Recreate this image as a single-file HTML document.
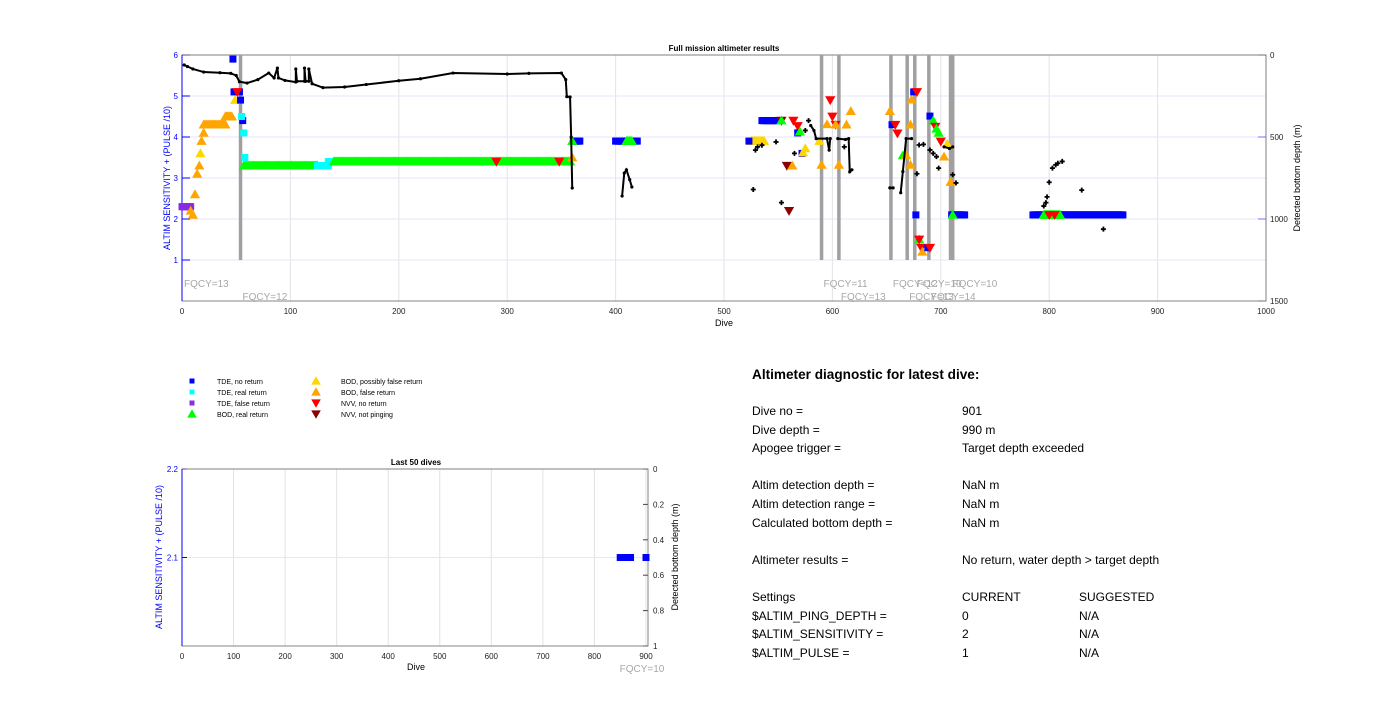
<!DOCTYPE html>
<html><head><meta charset="utf-8">
<style>
body{margin:0;background:#fff;font-family:"Liberation Sans",Arial,sans-serif;}
#wrap{position:relative;width:1400px;height:726px;overflow:hidden;}
svg{position:absolute;left:0;top:0;}
.diag{position:absolute;font-size:12px;color:#000;white-space:nowrap;}
</style></head>
<body><div id="wrap">
<svg id="svg" width="1400" height="726"></svg>
<div class="diag" style="left:752px;top:367px;font-size:13.6px;font-weight:bold;">Altimeter diagnostic for latest dive:</div>
<div id="diag"></div>
</div>
<script>
// ---------- data ----------
const diagRows=[["Dive no =","901",""],["Dive depth =","990 m",""],["Apogee trigger =","Target depth exceeded",""],null,
["Altim detection depth =","NaN m",""],["Altim detection range =","NaN m",""],["Calculated bottom depth =","NaN m",""],null,
["Altimeter results =","No return, water depth > target depth",""],null,
["Settings","CURRENT","SUGGESTED"],["$ALTIM_PING_DEPTH =","0","N/A"],["$ALTIM_SENSITIVITY =","2","N/A"],["$ALTIM_PULSE =","1","N/A"]];
const xTicks=[0,100,200,300,400,500,600,700,800,900,1000];
const yTicksL=[1,2,3,4,5,6];
const yTicksR=[0,500,1000,1500];
const fqcyDives=[54,590,606,654,669,676,689,709,711];
const fqcyLabels=[[0,"FQCY=13",0],[54,"FQCY=12",1],[590,"FQCY=11",0],[606,"FQCY=13",1],[654,"FQCY=12",0],[669,"FQCY=13",1],[676,"FQCY=10",0],[689,"FQCY=14",1],[709,"FQCY=10",0]];
// marker ranges: [startDive,endDive,value,type]
const markerRanges=[
[0,8,2.3,"tdeFalse"],[57,125,3.3,"bodReal"],[125,135,3.3,"tdeReal"],[135,140,3.4,"tdeReal"],[140,358,3.4,"bodReal"],
[20,40,4.3,"bodFalse"],[40,46,4.5,"bodFalse"],[361,367,3.9,"tdeNo"],[400,420,3.9,"tdeNo"],[410,415,3.9,"bodReal"],
[535,549,4.4,"tdeNo"],[525,537,3.9,"bodPoss"],[710,722,2.1,"tdeNo"],[785,868,2.1,"tdeNo"],[795,810,2.1,"bodReal"]];
// single markers: [dive,value,type]
const markerPoints=[
[8,2.2,"bodFalse"],[10,2.1,"bodFalse"],[12,2.6,"bodFalse"],[14,3.1,"bodFalse"],[16,3.3,"bodFalse"],[17,3.6,"bodPoss"],[18,3.9,"bodFalse"],[20,4.1,"bodFalse"],[49,4.9,"bodPoss"],
[47,5.9,"tdeNo"],[48,5.1,"tdeNo"],[53,5.1,"tdeNo"],[51,5.1,"nvvNo"],[54,4.9,"tdeNo"],[56,4.4,"tdeNo"],[55,4.5,"tdeReal"],[57,4.1,"tdeReal"],[58,3.5,"tdeReal"],
[360,3.9,"bodReal"],[360,3.5,"bodFalse"],[290,3.4,"nvvNo"],[348,3.4,"nvvNo"],
[523,3.9,"tdeNo"],[553,4.4,"nvvNot"],[553,4.4,"bodReal"],[564,4.4,"nvvNo"],[568,4.27,"nvvNo"],[558,3.3,"nvvNot"],[560,2.2,"nvvNot"],
[568,4.1,"tdeNo"],[570,4.13,"bodReal"],[563,3.3,"bodFalse"],[572,3.6,"tdeNo"],[575,3.72,"bodPoss"],[573,3.62,"bodPoss"],
[590,3.32,"bodFalse"],[595,4.31,"bodFalse"],[598,4.9,"nvvNo"],[600,4.5,"nvvNo"],[603,4.3,"nvvNo"],[603,4.3,"bodFalse"],[606,3.32,"bodFalse"],[613,4.3,"bodFalse"],[617,4.63,"bodFalse"],[588,3.9,"bodPoss"],
[653,4.63,"bodFalse"],[655,4.3,"tdeNo"],[658,4.3,"nvvNo"],[660,4.09,"nvvNo"],[665,3.55,"bodReal"],[668,3.55,"bodFalse"],[672,4.3,"bodFalse"],[672,3.32,"bodFalse"],[673,4.91,"bodFalse"],[675,5.1,"tdeNo"],[678,5.1,"nvvNo"],
[677,2.1,"tdeNo"],[680,1.5,"bodReal"],[680,1.5,"nvvNo"],[682,1.3,"nvvNo"],[683,1.2,"bodFalse"],[688,1.3,"tdeNo"],[690,1.3,"nvvNo"],
[690,4.51,"tdeNo"],[693,4.4,"bodReal"],[695,4.25,"nvvNo"],[696,4.2,"bodReal"],[698,4.1,"bodReal"],[700,3.89,"nvvNo"],[703,3.52,"bodFalse"],[706,3.83,"bodPoss"],[709,2.9,"bodFalse"],[711,2.1,"bodReal"],
[800,2.1,"nvvNo"],[805,2.1,"nvvNo"]];
// depth line segments: arrays of [dive,depth]
const depthLines=[
[[2,61],[5,70],[10,85],[20,104],[35,108],[45,112],[50,125],[53,163],[60,171],[70,150],[80,110],[85,140],[88,80],[89,140],[95,155],[105,165],[105,85],[106,160],[113,160],[113,80],[114,160],[117,160],[117,85],[120,175],[130,199],[150,195],[170,180],[200,157],[220,145],[250,110],[300,116],[320,112],[350,110],[354,150],[355,254],[358,256],[359,500],[360,811]],
[[406,860],[408,720],[410,700],[413,760],[415,805]],
[[580,430],[583,460],[585,510],[595,510],[597,580],[598,510]],
[[605,510],[612,515],[615,510],[616,712],[618,700]],
[[653,810],[656,810]],[[663,840],[665,710],[668,510],[673,510]],
[[703,560],[708,570],[711,560]]];
const depthDots=[[527,820],[529,580],[531,560],[535,550],[548,530],[553,900],[565,600],[575,460],[578,400],[611,560],[678,724],[680,549],[684,545],[690,579],[693,600],[696,620],[698,690],[711,730],[714,780],
[795,921],[797,900],[798,865],[800,776],[803,690],[806,670],[808,660],[812,649],[830,824],[850,1062]];
const last50Dives=[850,855,860,865,870,900];
const last50Vals=[2.1,2.1,2.1,2.1,2.1,2.1];
const legendItems=[["tdeNo","TDE, no return"],["tdeReal","TDE, real return"],["tdeFalse","TDE, false return"],["bodReal","BOD, real return"],["bodPoss","BOD, possibly false return"],["bodFalse","BOD, false return"],["nvvNo","NVV, no return"],["nvvNot","NVV, not pinging"]];
// ---------- drawing ----------
const NS="http://www.w3.org/2000/svg";const svg=document.getElementById('svg');
const STY={tdeNo:["#0000ff","sq"],tdeReal:["#00ffff","sq"],tdeFalse:["#8a2be2","sq"],bodReal:["#00ff00","up"],bodPoss:["#ffd700","up"],bodFalse:["#ffa500","up"],nvvNo:["#ff0000","dn"],nvvNot:["#8b0000","dn"]};
function el(tag,a,parent){const e=document.createElementNS(NS,tag);for(const k in a)e.setAttribute(k,a[k]);(parent||svg).appendChild(e);return e;}
function txt(x,y,s,a){const t=el('text',Object.assign({x:x,y:y,'font-size':8,'font-family':'Liberation Sans, Arial, sans-serif'},a||{}));t.textContent=s;return t;}
function marker(x,y,type,sz,g){const c=STY[type][0],k=STY[type][1];let m;
 if(k=="sq")m=el('rect',{x:x-sz/2,y:y-sz/2,width:sz,height:sz,fill:c},g);
 else if(k=="up")m=el('polygon',{points:`${x},${y-sz*0.6} ${x-sz*0.6},${y+sz*0.45} ${x+sz*0.6},${y+sz*0.45}`,fill:c},g);
 else m=el('polygon',{points:`${x},${y+sz*0.6} ${x-sz*0.6},${y-sz*0.45} ${x+sz*0.6},${y-sz*0.45}`,fill:c},g);
 
 return m;}
// main axes
const L=182,R=1266,T=55,B=301;
const X=d=>L+d*(R-L)/1000, YL=v=>B-v*(B-T)/6, YR=d=>T+d*(B-T)/1500;
const g1=el('g',{});
xTicks.forEach(t=>{el('line',{x1:X(t),x2:X(t),y1:T,y2:B,stroke:'#e3e3e3'},g1);const l=txt(X(t),314,String(t),{'text-anchor':'middle',fill:'#222'});g1.appendChild(l);});
yTicksL.forEach(t=>{el('line',{x1:L,x2:R,y1:YL(t),y2:YL(t),stroke:'#e6e6f8'},g1);el('line',{x1:L,x2:L+8,y1:YL(t),y2:YL(t),stroke:'#00f'},g1);
 const l=txt(L-4,YL(t)+3,String(t),{'text-anchor':'end',fill:'#00f'});g1.appendChild(l);});
yTicksR.forEach(t=>{el('line',{x1:R-8,x2:R,y1:YR(t),y2:YR(t),stroke:'#00f',opacity:0.5},g1);const l=txt(R+4,YR(t)+3,String(t),{fill:'#222'});g1.appendChild(l);});
el('rect',{x:L,y:T,width:R-L,height:B-T,fill:'none',stroke:'#666','stroke-width':0.8},g1);
el('line',{x1:L,x2:L,y1:T,y2:B,stroke:'#00f'},g1);
fqcyDives.forEach(d=>{const v=el('line',{x1:X(d),x2:X(d),y1:T,y2:YL(1),stroke:'#a0a0a0','stroke-width':3.5},g1);});
fqcyLabels.forEach(f=>{const l=txt(X(f[0])+2,f[2]?300:287,f[1],{fill:'#a8a8a8','font-size':10});g1.appendChild(l);});
markerRanges.forEach(r=>{for(let d=r[0];d<=r[1];d++)marker(X(d),YL(r[2]),r[3],r[3].startsWith('tde')?7:8.5,g1);});
markerPoints.forEach(p=>marker(X(p[0]),YL(p[1]),p[2],p[2].startsWith('tde')?7:8.5,g1));
depthLines.forEach(s=>{const pl=el('polyline',{points:s.map(p=>X(p[0])+','+YR(p[1])).join(' '),fill:'none',stroke:'#000','stroke-width':2},g1);
 s.forEach(p=>el('circle',{cx:X(p[0]),cy:YR(p[1]),r:1.6,fill:'#000'},g1));});
depthDots.forEach(p=>{const c=el('path',{d:`M${X(p[0])-2.5},${YR(p[1])}h5M${X(p[0])},${YR(p[1])-2.5}v5`,stroke:'#000','stroke-width':1.8},g1);});
let t1=txt(724,51,"Full mission altimeter results",{'text-anchor':'middle','font-weight':'bold'});
let t2=txt(724,326,"Dive",{'text-anchor':'middle','font-size':9});
let t3=txt(0,0,"ALTIM SENSITIVITY + (PULSE /10)",{'text-anchor':'middle','font-size':9,fill:'#00f',transform:'translate(170,178) rotate(-90)'});
let t4=txt(0,0,"Detected bottom depth (m)",{'text-anchor':'middle','font-size':9,fill:'#000',transform:'translate(1300,178) rotate(-90)'});
// legend
legendItems.forEach((it,i)=>{const col=i<4?0:1,row=i%4;const x=col?316:192,y=381+row*11;
 const g=el('g',{});
 marker(x,y,it[0],it[0].startsWith('tde')?5:8,g);const l=txt(x+25,y+3,it[1],{'font-size':7});g.appendChild(l);});
// bottom chart
const L2=182,R2=648,T2=469,B2=646;
const X2=d=>L2+d*(646-L2)/900, Y2=v=>B2-(v-2)*(B2-T2)/0.2, Y2R=v=>T2+v*(B2-T2);
const xTicks2=[0,100,200,300,400,500,600,700,800,900];
const yTicks2L=[2.1,2.2];const yTicks2R=[0,0.2,0.4,0.6,0.8,1];
const g2=el('g',{});
xTicks2.forEach(t=>{el('line',{x1:X2(t),x2:X2(t),y1:T2,y2:B2,stroke:'#e3e3e3'},g2);g2.appendChild(txt(X2(t),659,String(t),{'text-anchor':'middle',fill:'#222'}));});
yTicks2L.forEach(t=>{el('line',{x1:L2,x2:R2,y1:Y2(t),y2:Y2(t),stroke:'#e6e6f8'},g2);el('line',{x1:L2,x2:L2+5,y1:Y2(t),y2:Y2(t),stroke:'#00f'},g2);g2.appendChild(txt(L2-4,Y2(t)+3,String(t),{'text-anchor':'end',fill:'#00f'}));});
yTicks2R.forEach(t=>{el('line',{x1:R2-5,x2:R2,y1:Y2R(t),y2:Y2R(t),stroke:'#444'},g2);g2.appendChild(txt(R2+5,Y2R(t)+3,String(t),{fill:'#222'}));});
el('rect',{x:L2,y:T2,width:R2-L2,height:B2-T2,fill:'none',stroke:'#666','stroke-width':0.8},g2);
el('line',{x1:L2,x2:L2,y1:T2,y2:B2,stroke:'#00f'},g2);
last50Dives.forEach((d,i)=>marker(X2(d),Y2(last50Vals[i]),'tdeNo',7,g2));
let u1=txt(416,465,"Last 50 dives",{'text-anchor':'middle','font-weight':'bold'});
let u2=txt(416,670,"Dive",{'text-anchor':'middle','font-size':9});
let u3=txt(642,672,"FQCY=10",{'text-anchor':'middle','font-size':10,fill:'#a8a8a8'});
let u4=txt(0,0,"ALTIM SENSITIVITY + (PULSE /10)",{'text-anchor':'middle','font-size':9,fill:'#00f',transform:'translate(162,557) rotate(-90)'});
let u5=txt(0,0,"Detected bottom depth (m)",{'text-anchor':'middle','font-size':9,transform:'translate(678,557) rotate(-90)'});
// diagnostics text
const D=document.getElementById('diag');let y=404;
diagRows.forEach(r=>{if(!r){y+=18.6;return;}
 [[752,0],[962,1],[1079,2]].forEach(c=>{if(!r[c[1]])return;const d=document.createElement('div');d.className='diag';d.style.left=c[0]+'px';d.style.top=y+'px';d.textContent=r[c[1]];
 
 D.appendChild(d);});y+=18.6;});
</script>
</body></html>
